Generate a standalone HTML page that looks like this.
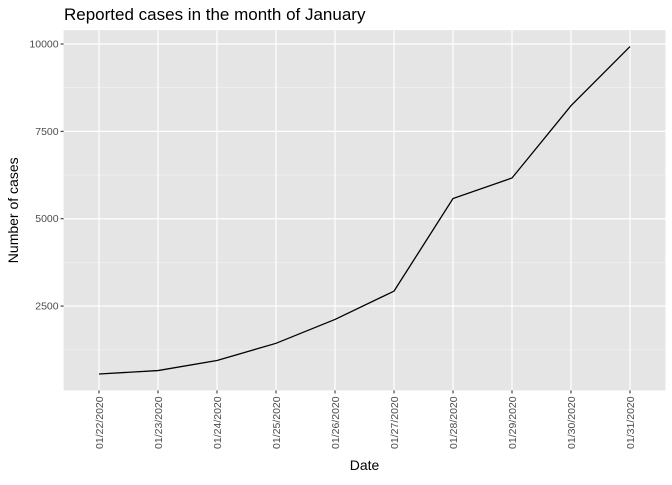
<!DOCTYPE html>
<html><head><meta charset="utf-8"><style>
body{margin:0;background:#fff;font-family:"Liberation Sans",sans-serif;}
</style></head><body>
<svg id="c" width="672" height="480" xmlns="http://www.w3.org/2000/svg"></svg>
<script>
const categories=["01/22/2020","01/23/2020","01/24/2020","01/25/2020","01/26/2020","01/27/2020","01/28/2020","01/29/2020","01/30/2020","01/31/2020"];
const cases=[555,654,941,1434,2118,2927,5578,6166,8234,9927];
const yTicks=[2500,5000,7500,10000];
const L=63.6,R=665.4,T=30.2,B=390.4;
const svg=document.getElementById('c');
const NS='http://www.w3.org/2000/svg';
function mk(t,a,p){const e=document.createElementNS(NS,t);for(const k in a)e.setAttribute(k,a[k]);(p||svg).appendChild(e);return e;}
const n=categories.length;
const xs=i=>L+(i+0.6)/(n-1+1.2)*(R-L);
const mn=Math.min(...cases),mx=Math.max(...cases),pad=(mx-mn)*0.05;
const y0=mn-pad,y1=mx+pad;
const ys=v=>B-(v-y0)/(y1-y0)*(B-T);
const bg=mk('rect',{x:L,y:T,width:R-L,height:B-T,fill:'#e5e5e5'});


// minor y grid
for(let i=0;i<yTicks.length;i++){const prev=i===0?0:yTicks[i-1];const m=(prev+yTicks[i])/2;if(m>y0){const g=mk('line',{x1:L,x2:R,y1:ys(m),y2:ys(m),stroke:'#f2f2f2','stroke-width':0.6});}}
{const m=yTicks[yTicks.length-1]+1250;if(m<y1){const g=mk('line',{x1:L,x2:R,y1:ys(m),y2:ys(m),stroke:'#f2f2f2','stroke-width':0.6});}}
yTicks.forEach(v=>{const y=ys(v);
const g=mk('line',{x1:L,x2:R,y1:y,y2:y,stroke:'#fff','stroke-width':1.2});
const tk=mk('line',{x1:L-3,x2:L,y1:y,y2:y,stroke:'#333','stroke-width':1.1});
const t=mk('text',{x:L-5,y:y+3.5,'text-anchor':'end','font-size':10.5,fill:'#4d4d4d'});t.textContent=v;});
categories.forEach((c,i)=>{const x=xs(i);
const g=mk('line',{x1:x,x2:x,y1:T,y2:B,stroke:'#fff','stroke-width':1.2});
const tk=mk('line',{x1:x,x2:x,y1:B,y2:B+3,stroke:'#333','stroke-width':1.1});
const t=mk('text',{x:0,y:0,'text-anchor':'end','font-size':10.5,fill:'#4d4d4d',transform:`translate(${x+4},${B+6}) rotate(-90)`});t.textContent=c;});
const pl=mk('polyline',{points:cases.map((v,i)=>xs(i)+','+ys(v)).join(' '),fill:'none',stroke:'#000','stroke-width':1.3});


const ti=mk('text',{x:64,y:20,'font-size':17,fill:'#000'});ti.textContent='Reported cases in the month of January';


const xt=mk('text',{x:(L+R)/2,y:470,'text-anchor':'middle','font-size':14,fill:'#000'});xt.textContent='Date';


const yt=mk('text',{x:0,y:0,'text-anchor':'middle','font-size':14,fill:'#000',transform:`translate(18,${(T+B)/2}) rotate(-90)`});yt.textContent='Number of cases';


</script>
</body></html>
